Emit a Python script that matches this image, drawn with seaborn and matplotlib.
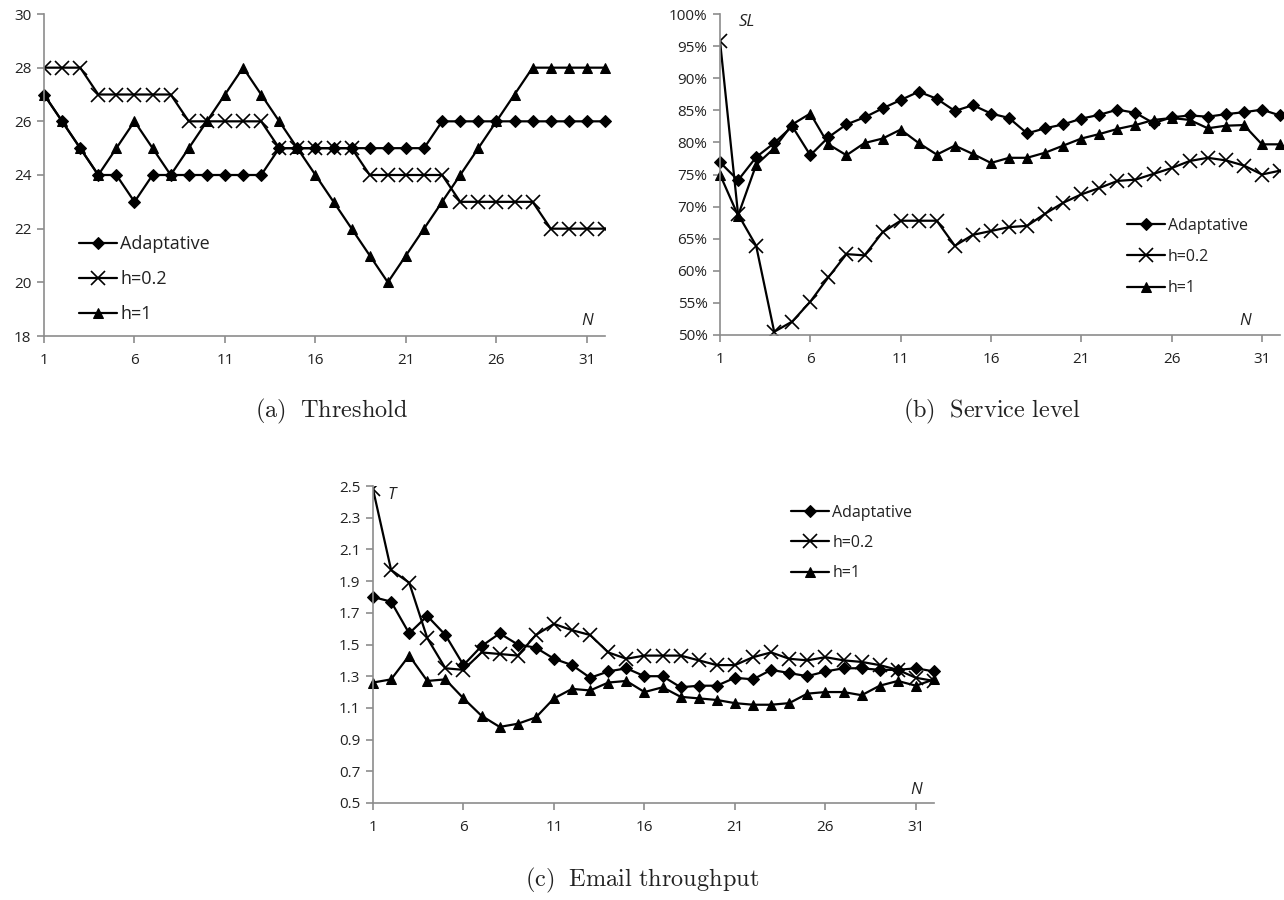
import numpy as np
import pandas as pd
import matplotlib
matplotlib.use("Agg")
import matplotlib.pyplot as plt
import seaborn as sns
from matplotlib.ticker import PercentFormatter, FixedLocator, FormatStrFormatter

# ---------------- data ----------------
N = list(range(1, 33))
series_names = ["Adaptative", "h=0.2", "h=1"]

threshold_adaptative = [27, 26, 25, 24, 24, 23, 24, 24, 24, 24, 24, 24, 24, 25, 25, 25,
                        25, 25, 25, 25, 25, 25, 26, 26, 26, 26, 26, 26, 26, 26, 26, 26]
threshold_h02 = [28, 28, 28, 27, 27, 27, 27, 27, 26, 26, 26, 26, 26, 25, 25, 25,
                 25, 25, 24, 24, 24, 24, 24, 23, 23, 23, 23, 23, 22, 22, 22, 22]
threshold_h1 = [27, 26, 25, 24, 25, 26, 25, 24, 25, 26, 27, 28, 27, 26, 25, 24,
                23, 22, 21, 20, 21, 22, 23, 24, 25, 26, 27, 28, 28, 28, 28, 28]

sl_adaptative = [76.9, 74.1, 77.7, 79.9, 82.5, 78.0, 80.8, 82.8, 83.9, 85.3, 86.6, 87.9, 86.8, 84.9, 85.8, 84.5,
                 83.8, 81.4, 82.2, 82.8, 83.7, 84.3, 85.1, 84.6, 83.0, 83.9, 84.2, 84.0, 84.4, 84.7, 85.1, 84.2]
sl_h02 = [95.8, 68.8, 63.9, 50.5, 52.1, 55.2, 59.0, 62.6, 62.4, 66.0, 67.8, 67.8, 67.8, 63.9, 65.6, 66.2,
          66.8, 67.0, 68.9, 70.6, 71.9, 72.9, 74.0, 74.2, 75.1, 76.0, 77.1, 77.6, 77.2, 76.4, 75.0, 75.6]
sl_h1 = [75.0, 68.6, 76.5, 79.1, 82.8, 84.5, 79.7, 78.0, 79.9, 80.6, 82.0, 79.9, 78.1, 79.5, 78.2, 76.8,
         77.6, 77.6, 78.4, 79.5, 80.6, 81.3, 82.1, 82.7, 83.5, 83.8, 83.5, 82.2, 82.6, 82.7, 79.7, 79.7]

t_adaptative = [1.80, 1.77, 1.57, 1.68, 1.56, 1.37, 1.49, 1.57, 1.50, 1.48, 1.41, 1.37, 1.29, 1.33, 1.35, 1.30,
                1.30, 1.23, 1.24, 1.24, 1.29, 1.28, 1.34, 1.32, 1.30, 1.33, 1.35, 1.35, 1.34, 1.34, 1.35, 1.33]
t_h02 = [2.48, 1.97, 1.89, 1.54, 1.35, 1.34, 1.45, 1.44, 1.43, 1.56, 1.63, 1.59, 1.56, 1.45, 1.41, 1.43,
         1.43, 1.43, 1.40, 1.37, 1.37, 1.42, 1.45, 1.41, 1.40, 1.42, 1.40, 1.39, 1.37, 1.34, 1.29, 1.27]
t_h1 = [1.26, 1.28, 1.43, 1.27, 1.28, 1.16, 1.05, 0.98, 1.00, 1.04, 1.16, 1.22, 1.21, 1.26, 1.27, 1.20,
        1.23, 1.17, 1.16, 1.15, 1.13, 1.12, 1.12, 1.13, 1.19, 1.20, 1.20, 1.18, 1.24, 1.27, 1.24, 1.28]

x_ticks = [1, 6, 11, 16, 21, 26, 31]
threshold_yticks = [18, 20, 22, 24, 26, 28, 30]
sl_yticks = [50, 55, 60, 65, 70, 75, 80, 85, 90, 95, 100]
t_yticks = [0.5, 0.7, 0.9, 1.1, 1.3, 1.5, 1.7, 1.9, 2.1, 2.3, 2.5]

captions = [r"$\mathrm{(a)\ \ Threshold}$", r"$\mathrm{(b)\ \ Service\ level}$",
            r"$\mathrm{(c)\ \ Email\ throughput}$"]

# ---------------- style ----------------
sns.set_theme(style="white")
plt.rcParams["font.family"] = ["Open Sans", "DejaVu Sans"]
plt.rcParams["mathtext.fontset"] = "cm"

markers = {"Adaptative": dict(marker="D", markersize=6.5),
           "h=0.2": dict(marker="x", markersize=9.5, markeredgewidth=1.2),
           "h=1": dict(marker="^", markersize=7.5)}

AX_COLOR = "#8c8c8c"
TICK_FS = 11

fig = plt.figure(figsize=(12.84, 9.0), dpi=100)
W, H = 1284.0, 900.0


def add_ax(left, right, top, bottom):
    return fig.add_axes([left / W, (H - bottom) / H, (right - left) / W, (bottom - top) / H])


ax_a = add_ax(44, 605, 14, 336)
ax_b = add_ax(720, 1280, 14, 335)
ax_c = add_ax(373, 934, 486, 803)


def draw(ax, data, ylim, yticks, legend_anchor, legend_fs, labelspacing, handlelength):
    df = pd.DataFrame({"N": N * 3,
                       "value": data[0] + data[1] + data[2],
                       "series": [s for s in series_names for _ in N]})
    for name in series_names:
        sub = df[df["series"] == name]
        sns.lineplot(data=sub, x="N", y="value", ax=ax, color="black", linewidth=1.6,
                     label=name, markeredgecolor="black", markerfacecolor="black",
                     clip_on=False if name != "h=0.2" else True, **markers[name])
    ax.set_xlim(1, 32)
    ax.set_ylim(*ylim)
    ax.xaxis.set_major_locator(FixedLocator(x_ticks))
    ax.yaxis.set_major_locator(FixedLocator(yticks))
    ax.set_xlabel("")
    ax.set_ylabel("")
    for side in ["top", "right"]:
        ax.spines[side].set_visible(False)
    for side in ["left", "bottom"]:
        ax.spines[side].set_color(AX_COLOR)
        ax.spines[side].set_linewidth(1.2)
    ax.tick_params(axis="both", which="major", direction="out", length=5, width=1.2,
                   color=AX_COLOR, labelsize=TICK_FS, labelcolor="#222222",
                   left=True, bottom=True)
    ax.tick_params(axis="x", pad=7)
    ax.tick_params(axis="y", pad=4)
    ax.grid(False)
    leg = ax.legend(loc="center left", bbox_to_anchor=legend_anchor, frameon=False,
                    fontsize=legend_fs, handlelength=handlelength, handletextpad=0.2,
                    labelspacing=labelspacing, borderpad=0, borderaxespad=0)
    for t in leg.get_texts():
        t.set_color("#222222")
    return ax


draw(ax_a, [threshold_adaptative, threshold_h02, threshold_h1], (18, 30), threshold_yticks,
     (0.062, 0.177), 13, 0.95, 2.1)
draw(ax_b, [sl_adaptative, sl_h02, sl_h1], (50, 100), sl_yticks, (0.726, 0.243), 11.5, 0.97, 2.4)
ax_b.yaxis.set_major_formatter(PercentFormatter(xmax=100, decimals=0))
draw(ax_c, [t_adaptative, t_h02, t_h1], (0.5, 2.5), t_yticks, (0.745, 0.82), 11.5, 0.9, 2.4)
ax_c.yaxis.set_major_formatter(FormatStrFormatter("%.1f"))

# axis annotations
lab = dict(fontsize=12, fontstyle="italic", color="#222222")
fig.text(587 / W, 1 - 321 / H, "N", ha="center", va="center", **lab)
fig.text(1245 / W, 1 - 321 / H, "N", ha="center", va="center", **lab)
fig.text(916 / W, 1 - 790 / H, "N", ha="center", va="center", **lab)
fig.text(747 / W, 1 - 22 / H, "SL", ha="center", va="center", **lab)
fig.text(392 / W, 1 - 495 / H, "T", ha="center", va="center", **lab)

# captions (LaTeX-like serif)
cap = dict(fontsize=17.5, ha="center", va="center", color="#222222")
fig.text(332 / W, 1 - 411 / H, captions[0], **cap)
fig.text(992 / W, 1 - 411 / H, captions[1], **cap)
fig.text(642 / W, 1 - 880 / H, captions[2], **cap)

fig.savefig("out.png", dpi=100, facecolor="white")
